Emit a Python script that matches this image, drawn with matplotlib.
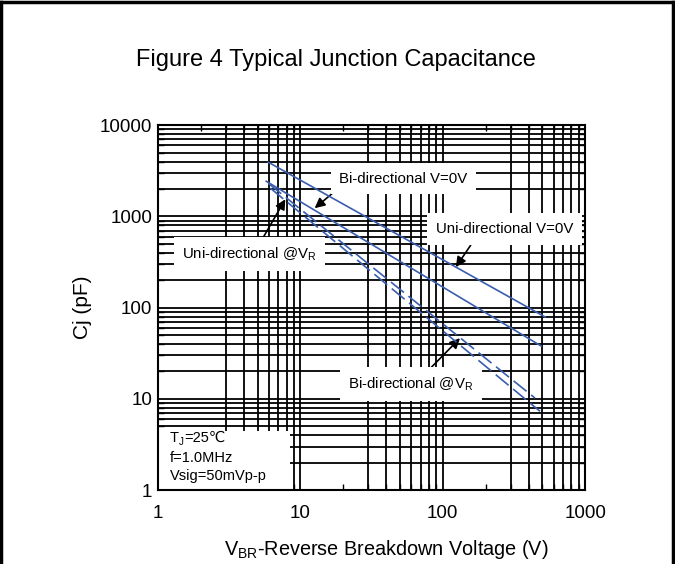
import numpy as np
import matplotlib
matplotlib.use('Agg')
import matplotlib.pyplot as plt
from matplotlib.patches import Rectangle
from matplotlib.lines import Line2D

plt.rcParams['font.family'] = ['Liberation Sans', 'DejaVu Sans']
plt.rcParams['mathtext.fontset'] = 'custom'
plt.rcParams['mathtext.rm'] = 'Liberation Sans'
plt.rcParams['mathtext.it'] = 'Liberation Sans:italic'

# curves (two end points each, straight on log-log)
uni_0v_v = [5.95, 523]
uni_0v_c = [3930, 79]
bi_0v_v = [5.76, 490]
bi_0v_c = [2430, 38]
bi_vr_v = [5.95, 444]
bi_vr_c = [2310, 10.2]
uni_vr_v = [6.16, 482]
uni_vr_c = [2040, 7.3]

x_ticks = [1, 10, 100, 1000]
y_ticks = [1, 10, 100, 1000, 10000]

blue = '#3a5dae'

fig = plt.figure(figsize=(6.75, 5.64), dpi=100)
ax = fig.add_axes([0.234, 0.131, 0.633, 0.647])
ax.set_xscale('log')
ax.set_yscale('log')
ax.set_xlim(1, 1000)
ax.set_ylim(1, 10000)

# grid drawn by hand so the text boxes can sit on top of it
for d in range(3):
    for k in range(3, 10):
        ax.axvline(k * 10 ** d, color='black', lw=1.3, zorder=1)
    ax.axvline(10 ** d, color='black', lw=1.3, zorder=1)
for d in range(4):
    for k in range(1, 10):
        ax.axhline(k * 10 ** d, color='black', lw=1.3, zorder=1)

ax.plot(uni_0v_v, uni_0v_c, color=blue, lw=1.2, zorder=2.2)
ax.plot(bi_0v_v, bi_0v_c, color=blue, lw=1.2, zorder=2.2)
ax.plot(bi_vr_v, bi_vr_c, color=blue, lw=1.2, dashes=(10, 3.5), zorder=2.2)
ax.plot(uni_vr_v, uni_vr_c, color=blue, lw=1.2, dashes=(10, 3.5), zorder=2.2)

box = dict(boxstyle='square,pad=0.55', fc='white', ec='none')


def arrow(rel):
    return dict(arrowstyle='-|>', color='black', lw=1.2, mutation_scale=15,
                shrinkA=0, shrinkB=0, relpos=rel)


ax.annotate('Bi-directional V=0V', xy=(12.6, 1231), xytext=(53, 2594), fontsize=10.8,
            ha='center', va='center', bbox=box, arrowprops=arrow((0.03, 0.1)), zorder=2)
ax.annotate('Uni-directional V=0V', xy=(123.5, 278), xytext=(270, 725), fontsize=10.8,
            ha='center', va='center', bbox=dict(boxstyle='square,pad=0.6', fc='white', ec='none'),
            arrowprops=arrow((0.3, 0.0)), zorder=2)
ax.annotate(r'Uni-directional @V$_\mathrm{R}$', xy=(7.84, 1545), xytext=(4.37, 386), fontsize=10.8,
            ha='center', va='center', bbox=box, arrowprops=arrow((0.57, 1.0)), zorder=2)
ax.annotate(r'Bi-directional @V$_\mathrm{R}$', xy=(132, 46.3), xytext=(59.6, 14.5), fontsize=10.8,
            ha='center', va='center', bbox=box, arrowprops=arrow((0.6, 1.0)), zorder=2)

# conditions box, bottom left
ax.add_patch(Rectangle((1, 1), 7.5, 3.5, fc='white', ec='none', zorder=2))
t_main = ax.text(0.028, 0.123, 'T', transform=ax.transAxes, fontsize=10.5, va='bottom', zorder=2.3)
t_sub = ax.annotate('J', xy=(1, 0), xycoords=t_main, xytext=(0, -1.5), textcoords='offset points',
                    fontsize=7, va='bottom', zorder=2.3)
ax.annotate('=25\u2103', xy=(1, 0), xycoords=(t_sub, t_main), fontsize=10.5, va='bottom', zorder=2.3)
ax.text(0.028, 0.088, 'f=1.0MHz', transform=ax.transAxes, fontsize=10.5, va='center', zorder=2.3)
ax.text(0.028, 0.038, 'Vsig=50mVp-p', transform=ax.transAxes, fontsize=10.5, va='center', zorder=2.3)

ax.set_xticks(x_ticks)
ax.set_xticklabels([str(v) for v in x_ticks])
ax.set_yticks(y_ticks)
ax.set_yticklabels([str(v) for v in y_ticks])
ax.tick_params(which='major', length=0, labelsize=13.5)
ax.tick_params(axis='x', which='major', pad=11)
ax.tick_params(axis='y', which='major', pad=4)
ax.tick_params(which='minor', direction='in', length=4, width=1, top=True, right=True, labelbottom=False, labelleft=False)
for s in ax.spines.values():
    s.set_linewidth(1.5)
    s.set_zorder(3)

ax.set_xlabel(r'V$_\mathrm{BR}$-Reverse Breakdown Voltage (V)', fontsize=14.3)
ax.xaxis.set_label_coords(0.534, -0.13)
ax.set_ylabel('Cj (pF)', fontsize=15, labelpad=6)
fig.text(0.498, 0.893, 'Figure 4 Typical Junction Capacitance', fontsize=17, ha='center', va='center')

# frame round the figure (no bottom edge in the original)
for xs, ys in [([0.002, 0.002], [0, 0.997]), ([0.002, 0.997], [0.997, 0.997]), ([0.997, 0.997], [0, 0.997])]:
    fig.add_artist(Line2D(xs, ys, color='black', lw=2.5, transform=fig.transFigure))

fig.savefig('out.png', dpi=100)
